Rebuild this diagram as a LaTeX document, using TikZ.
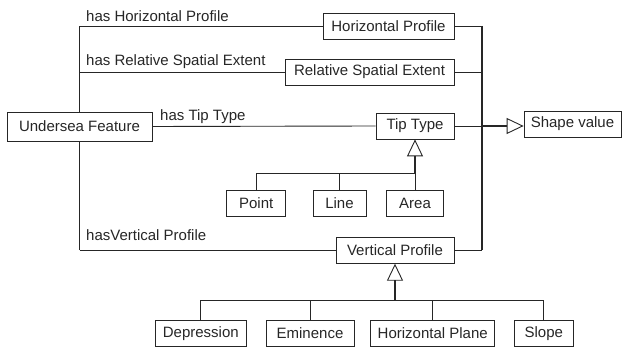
\documentclass[tikz,border=0pt]{standalone}
\usepackage{fontspec}
\setmainfont{Liberation Sans}
\usetikzlibrary{arrows.meta}
\begin{document}
\begin{tikzpicture}[x=1pt,y=-1pt,
  box/.style={draw, line width=0.8pt, inner sep=0pt, minimum height=26pt, font=\fontsize{15}{17}\selectfont},
  lbl/.style={inner sep=0pt, anchor=base west, font=\fontsize{15}{17}\selectfont},
  conn/.style={line width=0.9pt},
  trunk/.style={line width=1.4pt},
  gen/.style={line width=1.5pt, -{Triangle[open,length=17pt,width=16pt,line width=0.9pt]}},
  color=black!85]
\useasboundingbox (0,0) rectangle (622,347);
% nodes
\node[box, minimum width=145pt, minimum height=29pt] (uf) at (79.5,126.5) {Undersea Feature};
\node[box, minimum width=131pt] (hp) at (388.5,26) {Horizontal Profile};
\node[box, minimum width=169pt] (rse) at (369.5,72) {Relative Spatial Extent};
\node[box, minimum width=78pt] (tt) at (415,126) {Tip Type};
\node[box, minimum width=97pt] (sv) at (572.5,124) {Shape value};
\node[box, minimum width=59pt] (point) at (256.2,203) {Point};
\node[box, minimum width=53pt] (line) at (339.5,203) {Line};
\node[box, minimum width=57.6pt] (area) at (415,203) {Area};
\node[box, minimum width=118pt] (vp) at (395,250.3) {Vertical Profile};
\node[box, minimum width=91.7pt, minimum height=26.7pt] (dep) at (200.8,333.3) {Depression};
\node[box, minimum width=88pt, minimum height=26.7pt] (emi) at (310,333.3) {Eminence};
\node[box, minimum width=124pt, minimum height=26.7pt] (hpl) at (432.7,333.3) {Horizontal Plane};
\node[box, minimum width=59pt, minimum height=26.7pt] (slope) at (543.8,333.3) {Slope};
% labels
\node[lbl] (l1) at (86,21.5) {has Horizontal Profile};
\node[lbl] (l2) at (86,66) {has Relative Spatial Extent};
\node[lbl] (l3) at (160,120.5) {has Tip Type};
\node[lbl] (l4) at (86,241) {hasVertical Profile};
% coordinates
\coordinate (rt) at (482,26);
\coordinate (tj) at (415,173);
\coordinate (vj) at (395,300.7);
% left side
\draw[trunk] (uf.north) -- (uf.north |- hp.west);
\draw[conn] (uf.north |- hp.west) -- (hp.west);
\draw[conn] (rse.west -| uf.north) -- (rse.west);
\draw[conn] (uf.east) -- (tt.west);
\draw[trunk] (uf.south) -- (uf.south |- vp.west);
\draw[conn] (uf.south |- vp.west) -- (vp.west);
% right side
\draw[trunk] (hp.east -| rt) -- (vp.east -| rt);
\draw[conn] (hp.east) -- (hp.east -| rt);
\draw[conn] (rse.east) -- (rse.east -| rt);
\draw[conn] (tt.east) -- (tt.east -| rt);
\draw[conn] (vp.east) -- (vp.east -| rt);
\draw[gen] (tt.east -| rt) -- (sv.west |- tt.east);
% tip type generalization
\draw[conn] (point.north) |- (tj);
\draw[conn] (line.north) -- (line.north |- tj);
\draw[conn] (area.north) -- (tj);
\draw[gen] (tj) -- (tt.south);
% vertical profile generalization
\draw[conn] (dep.north) |- (vj);
\draw[conn] (slope.north) |- (vj);
\draw[conn] (emi.north) -- (emi.north |- vj);
\draw[conn] (hpl.north) -- (hpl.north |- vj);
\draw[gen] (vj) -- (vp.south);
\end{tikzpicture}
\end{document}
